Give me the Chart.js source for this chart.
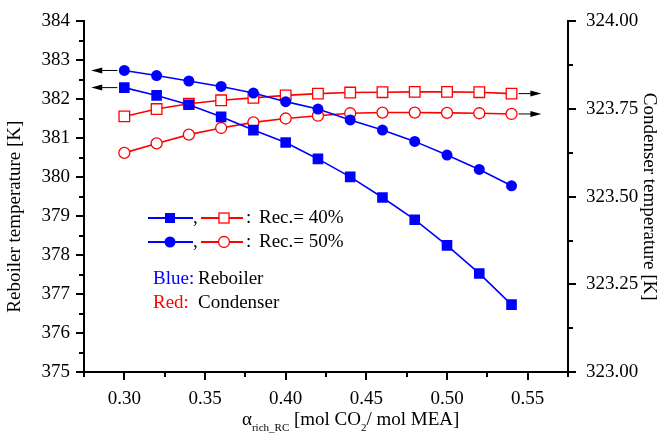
<!DOCTYPE html>
<html>
<head>
<meta charset="utf-8">
<script src="https://cdn.jsdelivr.net/npm/chart.js@4/dist/chart.umd.min.js"></script>
<style>
  html, body { margin: 0; padding: 0; background: #fff; }
  canvas { display: block; }
</style>
</head>
<body>
<canvas id="c" width="662" height="438"></canvas>
<script>
// ---- data ----
const alphaRich = [0.30, 0.32, 0.34, 0.36, 0.38, 0.40, 0.42, 0.44, 0.46, 0.48, 0.50, 0.52, 0.54];
const reboilerRec40 = [382.30, 382.10, 381.86, 381.55, 381.21, 380.89, 380.47, 380.01, 379.48, 378.91, 378.25, 377.53, 376.73];
const reboilerRec50 = [382.74, 382.61, 382.47, 382.33, 382.16, 381.94, 381.75, 381.47, 381.21, 380.92, 380.57, 380.20, 379.78];
const condenserRec40 = [323.729, 323.750, 323.765, 323.775, 323.782, 323.789, 323.794, 323.797, 323.798, 323.799, 323.799, 323.798, 323.794];
const condenserRec50 = [323.625, 323.652, 323.677, 323.696, 323.712, 323.723, 323.731, 323.738, 323.740, 323.740, 323.739, 323.738, 323.736];
const xTickValues = [0.30, 0.35, 0.40, 0.45, 0.50, 0.55];
const leftTickValues = [375, 376, 377, 378, 379, 380, 381, 382, 383, 384];
const rightTickValues = [323.00, 323.25, 323.50, 323.75, 324.00];

const FONT = "'Liberation Serif', 'Times New Roman', serif";
const BLUE = '#0000ff';
const RED = '#ff0000';

function pts(ys) { return alphaRich.map((x, i) => ({ x: x, y: ys[i] })); }

const whiteBg = {
  id: 'whiteBg',
  beforeDraw(chart) {
    const ctx = chart.ctx;
    ctx.save(); ctx.fillStyle = '#fff'; ctx.fillRect(0, 0, chart.width, chart.height); ctx.restore();
  }
};

const decorations = {
  id: 'decorations',
  afterDatasetsDraw(chart) {
    const ctx = chart.ctx;
    const xs = chart.scales.x, yl = chart.scales.y, yr = chart.scales.y2;
    const ca = chart.chartArea;
    ctx.save();
    // arrows indicating which axis each group belongs to
    function arrow(x0, x1, y) {
      const dir = Math.sign(x1 - x0);
      ctx.strokeStyle = '#000'; ctx.fillStyle = '#000'; ctx.lineWidth = 1;
      ctx.beginPath(); ctx.moveTo(x0, y); ctx.lineTo(x1 - dir * 8, y); ctx.stroke();
      ctx.beginPath(); ctx.moveTo(x1, y); ctx.lineTo(x1 - dir * 11, y - 3); ctx.lineTo(x1 - dir * 11, y + 3); ctx.closePath(); ctx.fill();
    }
    const n = alphaRich.length - 1;
    arrow(xs.getPixelForValue(alphaRich[0]) - 7, xs.getPixelForValue(alphaRich[0] - 0.0205), yl.getPixelForValue(reboilerRec50[0]));
    arrow(xs.getPixelForValue(alphaRich[0]) - 7, xs.getPixelForValue(alphaRich[0] - 0.0205), yl.getPixelForValue(reboilerRec40[0]));
    arrow(xs.getPixelForValue(alphaRich[n]) + 7, xs.getPixelForValue(alphaRich[n] + 0.0185), yr.getPixelForValue(condenserRec40[n]));
    arrow(xs.getPixelForValue(alphaRich[n]) + 7, xs.getPixelForValue(alphaRich[n] + 0.0185), yr.getPixelForValue(condenserRec50[n]));

    // legend
    ctx.font = '19px ' + FONT;
    ctx.textBaseline = 'middle';
    ctx.textAlign = 'left';
    function legendRow(y, shape) {
      ctx.lineWidth = 2;
      ctx.strokeStyle = BLUE;
      ctx.beginPath(); ctx.moveTo(148, y); ctx.lineTo(193, y); ctx.stroke();
      ctx.fillStyle = BLUE;
      if (shape === 'sq') { ctx.fillRect(165, y - 5, 10, 10); }
      else { ctx.beginPath(); ctx.arc(170, y, 5.5, 0, Math.PI * 2); ctx.fill(); }
      ctx.fillStyle = '#000';
      ctx.fillText(',', 193, y);
      ctx.strokeStyle = RED;
      ctx.beginPath(); ctx.moveTo(201, y); ctx.lineTo(243, y); ctx.stroke();
      ctx.fillStyle = '#fff'; ctx.lineWidth = 1.3;
      if (shape === 'sq') { ctx.fillRect(219, y - 5, 10, 10); ctx.strokeRect(219, y - 5, 10, 10); }
      else { ctx.beginPath(); ctx.arc(224, y, 5.5, 0, Math.PI * 2); ctx.fill(); ctx.stroke(); }
      ctx.fillStyle = '#000';
      ctx.fillText(':', 246, y);
    }
    legendRow(218, 'sq');
    ctx.fillStyle = '#000';
    ctx.fillText('Rec.= 40%', 259, 218);
    legendRow(242, 'ci');
    ctx.fillStyle = '#000';
    ctx.fillText('Rec.= 50%', 259, 242);
    ctx.fillStyle = BLUE; ctx.fillText('Blue:', 153, 279);
    ctx.fillStyle = '#000'; ctx.fillText('Reboiler', 198, 279);
    ctx.fillStyle = RED; ctx.fillText('Red:', 153, 303);
    ctx.fillStyle = '#000'; ctx.fillText('Condenser', 198, 303);
    ctx.restore();
  },
  afterDraw(chart) {
    const ctx = chart.ctx;
    const xs = chart.scales.x, yl = chart.scales.y, yr = chart.scales.y2;
    const ca = chart.chartArea;
    ctx.save();
    ctx.strokeStyle = '#000';
    ctx.lineWidth = 2;
    // x ticks
    for (let v = xs.min; v <= xs.max + 1e-9; v += 0.025) {
      const isMajor = xTickValues.some(t => Math.abs(t - v) < 1e-6);
      const px = Math.round(xs.getPixelForValue(v));
      ctx.beginPath(); ctx.moveTo(px, ca.bottom); ctx.lineTo(px, ca.bottom + (isMajor ? 8 : 5)); ctx.stroke();
    }
    // left y ticks
    for (let v = yl.min; v <= yl.max + 1e-9; v += 0.5) {
      const isMajor = Math.abs(v - Math.round(v)) < 1e-6;
      const py = Math.round(yl.getPixelForValue(v));
      ctx.beginPath(); ctx.moveTo(ca.left, py); ctx.lineTo(ca.left - (isMajor ? 8 : 5), py); ctx.stroke();
    }
    // right y ticks
    for (let v = yr.min; v <= yr.max + 1e-9; v += 0.125) {
      const isMajor = rightTickValues.some(t => Math.abs(t - v) < 1e-6);
      const py = Math.round(yr.getPixelForValue(v));
      ctx.beginPath(); ctx.moveTo(ca.right, py); ctx.lineTo(ca.right + (isMajor ? 8 : 5), py); ctx.stroke();
    }
    // left axis title
    ctx.fillStyle = '#000';
    ctx.font = '19px ' + FONT;
    ctx.textAlign = 'center';
    ctx.textBaseline = 'middle';
    ctx.save();
    ctx.translate(15, (ca.top + ca.bottom) / 2 + 20);
    ctx.rotate(-Math.PI / 2);
    ctx.fillText('Reboiler temperature [K]', 0, 0);
    ctx.restore();
    // x axis title with subscripts
    ctx.textAlign = 'left';
    ctx.textBaseline = 'alphabetic';
    const base = ca.bottom + 53;
    let x = (ca.left + ca.right) / 2 - 84;
    const big = '19px ' + FONT, small = '11px ' + FONT;
    const parts = [
      ['\u03b1', big, 0], ['rich_RC', small, 6], [' [mol CO', big, 0], ['2', small, 6], ['/ mol MEA]', big, 0]
    ];
    for (const [t, f, dy] of parts) {
      ctx.font = f;
      ctx.fillText(t, x, base + dy);
      x += ctx.measureText(t).width;
    }
    ctx.restore();
  }
};

Chart.defaults.font.family = FONT;
Chart.defaults.color = '#000';

new Chart(document.getElementById('c'), {
  type: 'line',
  data: {
    datasets: [
      { label: 'Reboiler, Rec.= 40%', data: pts(reboilerRec40), yAxisID: 'y', borderColor: BLUE, backgroundColor: BLUE,
        pointStyle: 'rect', pointRadius: 7.5, borderWidth: 1.6, pointBorderWidth: 0 },
      { label: 'Reboiler, Rec.= 50%', data: pts(reboilerRec50), yAxisID: 'y', borderColor: BLUE, backgroundColor: BLUE,
        pointStyle: 'circle', pointRadius: 5.5, borderWidth: 1.6, pointBorderWidth: 0 },
      { label: 'Condenser, Rec.= 40%', data: pts(condenserRec40), yAxisID: 'y2', borderColor: RED, backgroundColor: '#fff',
        pointStyle: 'rect', pointRadius: 7.5, borderWidth: 1.6, pointBorderWidth: 1.3, pointBorderColor: RED },
      { label: 'Condenser, Rec.= 50%', data: pts(condenserRec50), yAxisID: 'y2', borderColor: RED, backgroundColor: '#fff',
        pointStyle: 'circle', pointRadius: 5.5, borderWidth: 1.6, pointBorderWidth: 1.3, pointBorderColor: RED }
    ]
  },
  options: {
    responsive: false,
    animation: false,
    devicePixelRatio: 1,
    layout: { padding: { top: 16, left: 0, right: 0, bottom: 0 } },
    plugins: { legend: { display: false }, tooltip: { enabled: false } },
    elements: { line: { tension: 0 } },
    scales: {
      x: {
        type: 'linear', position: 'bottom', min: 0.275, max: 0.575,
        afterBuildTicks: s => { s.ticks = xTickValues.map(v => ({ value: v })); },
        afterFit: s => { s.height = 66; },
        ticks: { font: { size: 19 }, padding: 8, maxRotation: 0, callback: v => v.toFixed(2) },
        grid: { drawOnChartArea: false, color: 'rgba(0,0,0,0)', tickLength: 8 },
        border: { display: true, color: '#000', width: 2 }
      },
      y: {
        type: 'linear', position: 'left', min: 375, max: 384,
        afterBuildTicks: s => { s.ticks = leftTickValues.map(v => ({ value: v })); },
        afterFit: s => { s.width = 84; },
        ticks: { font: { size: 19 }, padding: 6, callback: v => String(v) },
        grid: { drawOnChartArea: false, color: 'rgba(0,0,0,0)', tickLength: 8 },
        border: { display: true, color: '#000', width: 2 }
      },
      y2: {
        type: 'linear', position: 'right', min: 323, max: 324,
        afterBuildTicks: s => { s.ticks = rightTickValues.map(v => ({ value: v })); },
        afterFit: s => { s.width = 94; },
        ticks: { font: { size: 19 }, padding: 10, callback: v => v.toFixed(2) },
        grid: { drawOnChartArea: false, color: 'rgba(0,0,0,0)', tickLength: 8 },
        border: { display: true, color: '#000', width: 2 },
        title: { display: true, text: 'Condenser temperature [K]', font: { size: 19 }, padding: { top: 2, bottom: 2 } }
      }
    }
  },
  plugins: [whiteBg, decorations]
});
</script>
</body>
</html>
